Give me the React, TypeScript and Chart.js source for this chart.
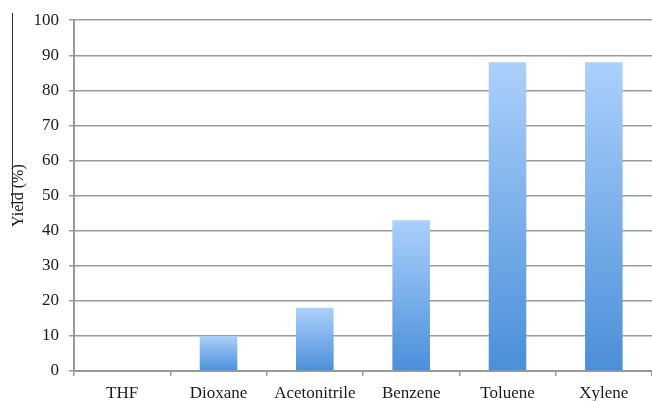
import React, { useEffect, useRef } from "react";
import { Chart, registerables } from "chart.js";

Chart.register(...registerables);

const categories = ["THF", "Dioxane", "Acetonitrile", "Benzene", "Toluene", "Xylene"];
const yieldValues = [0, 10, 18, 43, 88, 88];
const yTickMin = 0;
const yTickMax = 100;
const yTickStep = 10;
const yTitle = "Yield (%)";

const FONT = "'Liberation Serif', 'Times New Roman', serif";

const sideLine = {
  id: "sideLine",
  afterDraw(chart: any) {
    const ctx = chart.ctx;
    ctx.save();
    ctx.strokeStyle = "#333";
    ctx.lineWidth = 1;
    ctx.beginPath();
    ctx.moveTo(12.5, 13);
    ctx.lineTo(12.5, 208);
    ctx.stroke();
    ctx.restore();
  },
};

export default function App() {
  const ref = useRef<HTMLCanvasElement>(null);
  useEffect(() => {
    if (!ref.current) return;
    const chart = new Chart(ref.current, {
      type: "bar",
      data: {
        labels: categories,
        datasets: [
          {
            data: yieldValues,
            backgroundColor: (c: any) => {
              const ch = c.chart;
              const y = ch.scales && ch.scales.y;
              if (!ch.chartArea || !y || c.raw === undefined) return "#7fb2ea";
              const top = y.getPixelForValue(c.raw);
              const bot = y.getPixelForValue(0);
              if (!isFinite(top) || !isFinite(bot) || Math.abs(bot - top) < 1) return "#7fb2ea";
              const g = ch.ctx.createLinearGradient(0, top, 0, bot);
              g.addColorStop(0, "#abd0fc");
              g.addColorStop(1, "#4a8fd9");
              return g;
            },
            borderWidth: 0,
            categoryPercentage: 1,
            barPercentage: 0.39,
          },
        ],
      },
      options: {
        animation: false,
        responsive: false,
        maintainAspectRatio: false,
        layout: { padding: { top: 19, right: -3, bottom: 0, left: 0 } },
        plugins: { legend: { display: false }, tooltip: { enabled: false } },
        scales: {
          x: {
            offset: true,
            afterFit: (s: any) => {
              s.height = 30;
            },
            grid: {
              offset: true,
              drawOnChartArea: false,
              drawTicks: true,
              tickLength: 5,
              color: "#999",
              lineWidth: 1.5,
            },
            border: { color: "#999", width: 2 },
            ticks: {
              color: "#1a1a1a",
              font: { family: FONT, size: 17 },
              padding: 7,
              maxRotation: 0,
              autoSkip: false,
            },
          },
          y: {
            min: yTickMin,
            max: yTickMax,
            afterFit: (s: any) => {
              s.width = 74;
            },
            ticks: {
              stepSize: yTickStep,
              color: "#1a1a1a",
              font: { family: FONT, size: 17 },
              padding: 10,
            },
            grid: {
              color: "#9a9a9a",
              lineWidth: 1.5,
              drawTicks: true,
              tickLength: 5,
            },
            border: { color: "#999", width: 2 },
            title: {
              display: true,
              text: yTitle,
              color: "#1a1a1a",
              font: { family: FONT, size: 16 },
              padding: { top: 9, bottom: 0 },
            },
          },
        },
      },
      plugins: [sideLine],
    } as any);
    return () => chart.destroy();
  }, []);
  return (
    <div style={{ position: "fixed", left: 0, top: 0, width: 652, height: 401, background: "#fff" }}>
      <canvas ref={ref} width={652} height={401} style={{ width: 652, height: 401, display: "block" }} />
    </div>
  );
}
